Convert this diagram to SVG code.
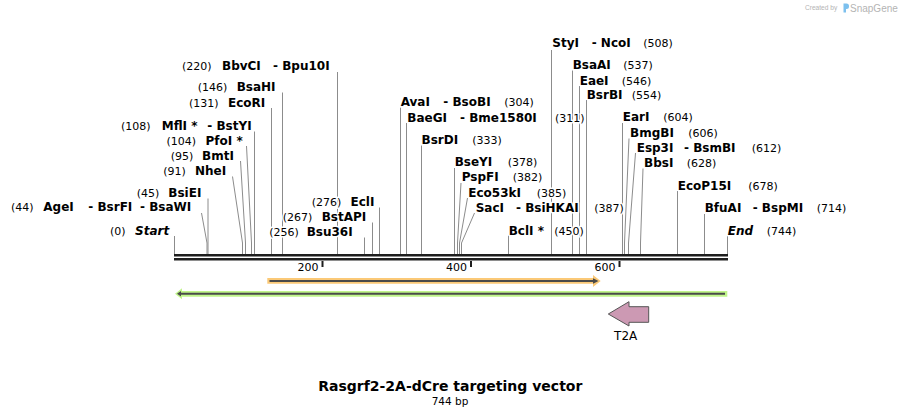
<svg xmlns="http://www.w3.org/2000/svg" width="902" height="417" viewBox="0 0 902 417">
<style>
text{font-family:"DejaVu Sans","Verdana",sans-serif;fill:#000}
.b{font-weight:bold;font-size:12px;paint-order:stroke;stroke:#fff;stroke-width:3;stroke-linejoin:round}
.bi{font-weight:bold;font-style:italic;font-size:12px;paint-order:stroke;stroke:#fff;stroke-width:3;stroke-linejoin:round}
.n{font-size:11px;paint-order:stroke;stroke:#fff;stroke-width:3;stroke-linejoin:round}
.tk{font-size:11px;text-anchor:end}
.cn path{fill:none;stroke:#8c8c8c;stroke-width:1}
.wm{font-family:"Liberation Sans",Arial,sans-serif;fill:#b4b4b4}
</style>
<rect width="902" height="417" fill="#fff"/>
<g id="watermark">
<text class="wm" x="805" y="10" font-size="6.6">Created by</text>
<path d="M843.5,3.5 h3 a2.5,2.5 0 0 1 2.5,2.5 v0.5 a2.5,2.5 0 0 1 -2.5,2.5 h-0.5 v3.5 h-2.5 z" fill="#7cc0ee"/>
<text class="wm" x="850" y="11.5" font-size="10">SnapGene</text>
</g>
<g id="connectors" class="cn">
<path d="M174.5,236V254"/>
<path d="M201.5,213L207,243V254"/>
<path d="M208,198.5V254"/>
<path d="M232.5,176.5L242.5,243V254"/>
<path d="M240.5,161L245.5,243V254"/>
<path d="M246.5,146L251.5,243V254"/>
<path d="M254.5,131.5V254"/>
<path d="M271.5,108V254"/>
<path d="M282.5,92.5V254"/>
<path d="M337.5,72V254"/>
<path d="M364.5,237.5V254"/>
<path d="M372.5,222.5V254"/>
<path d="M379.5,207.5V254"/>
<path d="M400.5,107.5V254"/>
<path d="M406.5,123V254"/>
<path d="M421.5,145.5V254"/>
<path d="M454.5,168V254"/>
<path d="M461,183L457.5,243V254"/>
<path d="M467.5,198L459.5,243V254"/>
<path d="M474.5,213L461.5,243V254"/>
<path d="M508.5,235.5V254"/>
<path d="M551.5,50V254"/>
<path d="M572.5,70.5V254"/>
<path d="M579.5,86V254"/>
<path d="M586.5,100V254"/>
<path d="M622.5,123V254"/>
<path d="M629,138.5L624.5,243V254"/>
<path d="M635.5,153L628.5,243V254"/>
<path d="M643,168.5L640.5,243V254"/>
<path d="M677.5,191V254"/>
<path d="M704.5,214V254"/>
<path d="M727.5,236V254"/>
</g>
<g id="sequence">
<rect x="174" y="254" width="554" height="2.5" fill="#1e1e1e"/>
<rect x="174" y="258" width="554" height="2.5" fill="#1e1e1e"/>
<rect x="321.5" y="261" width="2" height="6" fill="#1e1e1e"/>
<rect x="470" y="261" width="2" height="6" fill="#1e1e1e"/>
<rect x="618.5" y="261" width="2" height="6" fill="#1e1e1e"/>
<text class="tk" x="318.5" y="271">200</text>
<text class="tk" x="467" y="271">400</text>
<text class="tk" x="615.5" y="271">600</text>
</g>
<g id="s-BbvCI"><text class="n" x="182" y="69.5">(220)</text><text class="b" y="69.5"><tspan x="222">BbvCI</tspan><tspan x="273">- Bpu10I</tspan></text></g>
<g id="s-BsaHI"><text class="n" x="197.7" y="91.2">(146)</text><text class="b" x="236.7" y="91.2">BsaHI</text></g>
<g id="s-EcoRI"><text class="n" x="189" y="106.8">(131)</text><text class="b" x="228" y="106.8">EcoRI</text></g>
<g id="s-MflI"><text class="n" x="121" y="129.5">(108)</text><text class="b" y="129.5"><tspan x="161.7">MflI *</tspan><tspan x="207.3">- BstYI</tspan></text></g>
<g id="s-PfoI"><text class="n" x="166.5" y="144.5">(104)</text><text class="b" x="205.5" y="144.5">PfoI *</text></g>
<g id="s-BmtI"><text class="n" x="170.7" y="159.8">(95)</text><text class="b" x="202" y="159.8">BmtI</text></g>
<g id="s-NheI"><text class="n" x="163.3" y="174.5">(91)</text><text class="b" x="195" y="174.5">NheI</text></g>
<g id="s-BsiEI"><text class="n" x="136.7" y="196.8">(45)</text><text class="b" x="168.3" y="196.8">BsiEI</text></g>
<g id="s-AgeI"><text class="n" x="11" y="211.2">(44)</text><text class="b" y="211.2"><tspan x="43.3">AgeI</tspan><tspan x="88.3">- BsrFI</tspan><tspan x="140">- BsaWI</tspan></text></g>
<g id="s-Start"><text class="n" x="110" y="234.5">(0)</text><text class="bi" x="135" y="234.5">Start</text></g>
<g id="s-EclI"><text class="n" x="311.7" y="206.2">(276)</text><text class="b" x="350.5" y="206.2">EclI</text></g>
<g id="s-BstAPI"><text class="n" x="282.7" y="221.2">(267)</text><text class="b" x="321.7" y="221.2">BstAPI</text></g>
<g id="s-Bsu36I"><text class="n" x="269.3" y="236.2">(256)</text><text class="b" x="306.7" y="236.2">Bsu36I</text></g>
<g id="s-AvaI"><text class="b" y="106.2"><tspan x="400.7">AvaI</tspan><tspan x="443.3">- BsoBI</tspan></text><text class="n" x="504.3" y="106.2">(304)</text></g>
<g id="s-BaeGI"><text class="b" y="121.8"><tspan x="407.3">BaeGI</tspan><tspan x="460">- Bme1580I</tspan></text><text class="n" x="555" y="121.8">(311)</text></g>
<g id="s-BsrDI"><text class="b" x="421.5" y="143.8">BsrDI</text><text class="n" x="472.3" y="143.8">(333)</text></g>
<g id="s-BseYI"><text class="b" x="454.7" y="166.2">BseYI</text><text class="n" x="507.7" y="166.2">(378)</text></g>
<g id="s-PspFI"><text class="b" x="461.7" y="181.2">PspFI</text><text class="n" x="512.7" y="181.2">(382)</text></g>
<g id="s-Eco53kI"><text class="b" x="468.3" y="196.8">Eco53kI</text><text class="n" x="536.7" y="196.8">(385)</text></g>
<g id="s-SacI"><text class="b" y="211.8"><tspan x="475.7">SacI</tspan><tspan x="516">- BsiHKAI</tspan></text><text class="n" x="594.3" y="211.8">(387)</text></g>
<g id="s-BclI"><text class="b" x="508.7" y="234.5">BclI *</text><text class="n" x="554.3" y="234.5">(450)</text></g>
<g id="s-StyI"><text class="b" y="47.2"><tspan x="552.3">StyI</tspan><tspan x="591.7">- NcoI</tspan></text><text class="n" x="643.3" y="47.2">(508)</text></g>
<g id="s-BsaAI"><text class="b" x="572.7" y="68.8">BsaAI</text><text class="n" x="623.3" y="68.8">(537)</text></g>
<g id="s-EaeI"><text class="b" x="579.7" y="84.5">EaeI</text><text class="n" x="621.7" y="84.5">(546)</text></g>
<g id="s-BsrBI"><text class="b" x="586.7" y="98.5">BsrBI</text><text class="n" x="631.7" y="98.5">(554)</text></g>
<g id="s-EarI"><text class="b" x="622.7" y="121.2">EarI</text><text class="n" x="663.3" y="121.2">(604)</text></g>
<g id="s-BmgBI"><text class="b" x="630" y="136.8">BmgBI</text><text class="n" x="688.3" y="136.8">(606)</text></g>
<g id="s-Esp3I"><text class="b" y="151.8"><tspan x="636.7">Esp3I</tspan><tspan x="684">- BsmBI</tspan></text><text class="n" x="751.7" y="151.8">(612)</text></g>
<g id="s-BbsI"><text class="b" x="644" y="166.8">BbsI</text><text class="n" x="686.7" y="166.8">(628)</text></g>
<g id="s-EcoP15I"><text class="b" x="677.7" y="189.8">EcoP15I</text><text class="n" x="748.3" y="189.8">(678)</text></g>
<g id="s-BfuAI"><text class="b" y="211.8"><tspan x="704.7">BfuAI</tspan><tspan x="752.7">- BspMI</tspan></text><text class="n" x="816.7" y="211.8">(714)</text></g>
<g id="s-End"><text class="bi" x="727.7" y="234.5">End</text><text class="n" x="766.7" y="234.5">(744)</text></g>
<g id="f-orange">
<polygon points="267.3,278 593,278 593,275 600.7,281 593,287 593,283.7 267.3,283.7" fill="#fbc977"/>
<line x1="269.5" y1="281" x2="594" y2="281" stroke="#4a4a4a" stroke-width="2"/>
<polygon points="593,278.3 598.5,281 593,283.7" fill="#4a4a4a"/>
</g>
<g id="f-green">
<polygon points="727.3,291 182,291 182,288.3 175,293.8 182,299.3 182,296.7 727.3,296.7" fill="#c0f58a"/>
<line x1="180" y1="293.8" x2="725" y2="293.8" stroke="#4a4a4a" stroke-width="2"/>
<polygon points="181,291 177,293.8 181,296.6" fill="#4a4a4a"/>
</g>
<g id="f-T2A">
<polygon points="608.3,314 629,301.7 629,306.7 648.7,306.7 648.7,322.3 629,322.3 629,326" fill="#cc99b3" stroke="#555" stroke-width="1"/>
<text x="625.7" y="340.4" font-size="12" text-anchor="middle">T2A</text>
</g>
<g id="title">
<text x="450.3" y="391" font-size="14" font-weight="bold" text-anchor="middle">Rasgrf2-2A-dCre targeting vector</text>
<text x="450" y="405" font-size="10.5" text-anchor="middle">744 bp</text>
</g>
</svg>
